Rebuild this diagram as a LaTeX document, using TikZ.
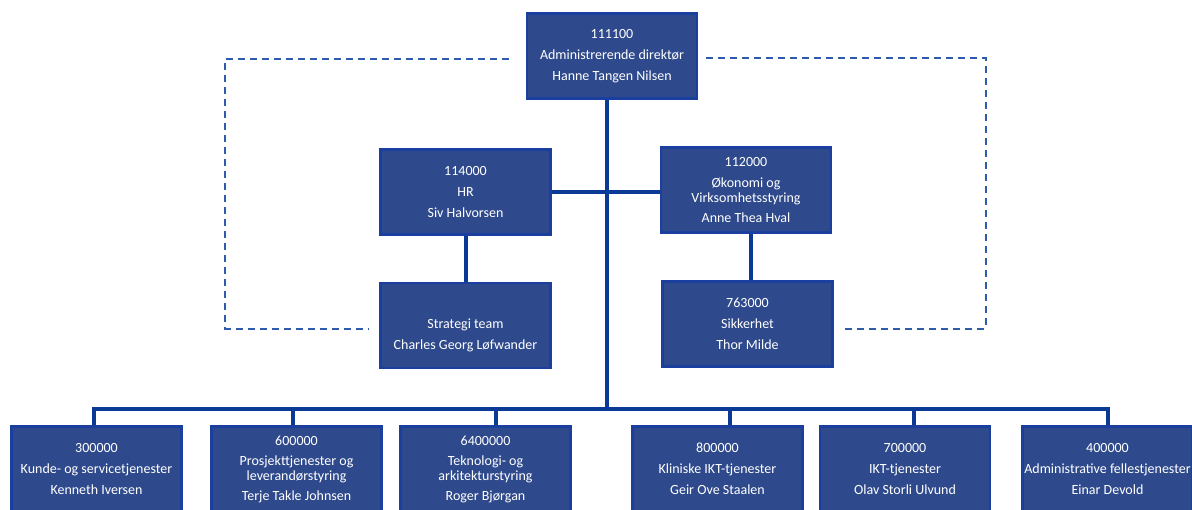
\documentclass[tikz,border=0pt]{standalone}
\usepackage{fontspec}
\setmainfont{Carlito}
\definecolor{boxfill}{HTML}{2F4A8C}
\definecolor{boxline}{HTML}{1A3F9F}
\definecolor{linkline}{HTML}{0B3A96}
\definecolor{dashline}{HTML}{2F5CAA}
\begin{document}
\begin{tikzpicture}[x=1pt,y=-1pt,
        unit/.style={draw=boxline,line width=2.5pt,fill=boxfill,text=white,
            minimum width=170pt,minimum height=85pt,inner sep=0pt,align=center,
            font=\fontsize{14}{15}\selectfont},
        link/.style={draw=linkline,line width=4pt},
        dashlink/.style={draw=dashline,line width=2pt,dash pattern=on 7pt off 5pt}]
        \useasboundingbox (0,0) rectangle (1192,510);
        %% Boxes
        \node[unit] (top) at (612,56) {111100\\[6pt]Administrerende direktør\\[6pt]Hanne Tangen Nilsen};
        \node[unit] (hr) at (465.5,192) {114000\\[6pt]HR\\[6pt]Siv Halvorsen};
        \node[unit] (oko) at (746,190) {112000\\[6pt]Økonomi og\\Virksomhetsstyring\\[5pt]Anne Thea Hval};
        \node[unit] (strat) at (465.5,325.5) {\phantom{0}\\[6pt]Strategi team\\[6pt]Charles Georg Løfwander};
        \node[unit] (sik) at (747.5,324) {763000\\[6pt]Sikkerhet\\[6pt]Thor Milde};
        \node[unit] (b1) at (96.5,469) {300000\\[6pt]Kunde- og servicetjenester\\[6pt]Kenneth Iversen};
        \node[unit] (b2) at (296.5,469) {600000\\[5pt]Prosjekttjenester og\\leverandørstyring\\[5pt]Terje Takle Johnsen};
        \node[unit] (b3) at (485.5,469) {6400000\\[5pt]Teknologi- og\\arkitekturstyring\\[5pt]Roger Bjørgan};
        \node[unit] (b4) at (717.5,469) {800000\\[6pt]Kliniske IKT-tjenester\\[6pt]Geir Ove Staalen};
        \node[unit] (b5) at (905,469) {700000\\[6pt]IKT-tjenester\\[6pt]Olav Storli Ulvund};
        \node[unit] (b6) at (1107.5,469) {400000\\[6pt]Administrative fellestjenester\\[6pt]Einar Devold};
        %% Lines
        \coordinate (bus) at (607,409);
        \draw[link] (top.south -| bus) -- (bus);
        \draw[link] (hr.east) -- (hr.east -| oko.west);
        \draw[link] (hr.south) -- (strat.north);
        \draw[link] ([xshift=5pt]oko.south) -- ([xshift=5pt]oko.south |- sik.north);
        \draw[link] ([xshift=-2.5pt]b1.north) |- ([xshift=0.5pt]b6.north |- bus) -- ([xshift=0.5pt]b6.north);
        \foreach \n/\dx in {b2/-3.5,b3/10.5,b4/12,b5/9}
            \draw[link] ([xshift=\dx pt]\n.north) -- ([xshift=\dx pt]\n.north |- bus);
        %% Dashed lines
        \draw[dashlink] ([xshift=-17pt,yshift=-3pt]top.west) -| ([xshift=-154pt,yshift=-3.5pt]strat.west) -- ([xshift=-11pt,yshift=-3.5pt]strat.west);
        \draw[dashlink] ([xshift=8pt,yshift=-2pt]top.east) -| ([xshift=152pt,yshift=-5pt]sik.east) -- ([xshift=8pt,yshift=-5pt]sik.east);
    \end{tikzpicture}
\end{document}
